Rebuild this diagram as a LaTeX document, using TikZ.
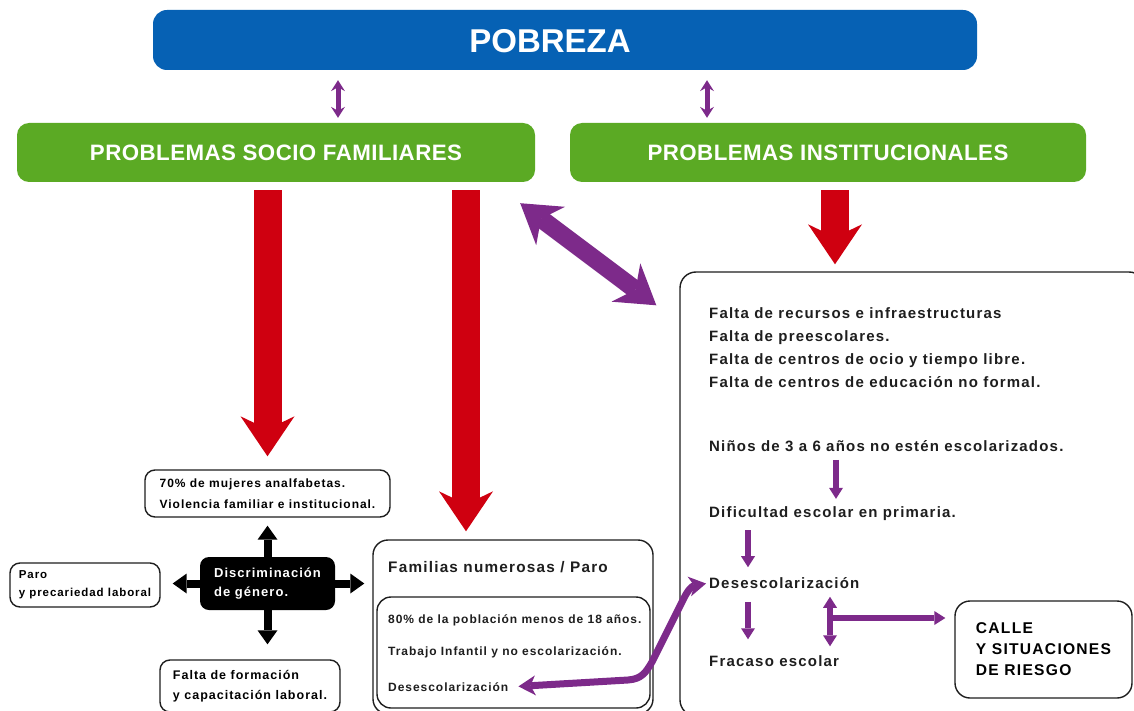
\documentclass[tikz,border=0pt]{standalone}
\usepackage{fontspec}
\setmainfont{Liberation Sans}
\newfontfamily\cuerpo{Liberation Sans}[LetterSpace=8]
\newfontfamily\cabecera{Liberation Sans}[LetterSpace=2]
\usetikzlibrary{arrows.meta}
\definecolor{pobblue}{HTML}{0661B4}
\definecolor{probgreen}{HTML}{5BAA24}
\definecolor{flechared}{HTML}{CF0010}
\definecolor{flechapurple}{HTML}{7D2A8A}
\definecolor{textdark}{HTML}{1E1E1E}

\begin{document}
\begin{tikzpicture}[x=1pt,y=-1pt,
  pobbox/.style={fill=pobblue,rounded corners=14pt,inner sep=0pt},
  probbox/.style={fill=probgreen,rounded corners=12pt,text=white,font=\cabecera\bfseries\fontsize{22.3}{26}\selectfont},
  wbox/.style={draw=textdark,line width=1.4pt,rounded corners=10pt,fill=white,inner sep=0pt,align=left},
  blkbox/.style={fill=black,rounded corners=9pt,text=white,inner sep=0pt,align=left},
  txt/.style={inner sep=0pt,text=textdark,align=left,anchor=west},
  redarr/.style={draw=flechared,line width=28pt,-{Stealth[length=40pt,width=54pt,inset=13pt,line width=0pt]}},
  pthin/.style={draw=flechapurple,line width=5pt,{Stealth[length=11pt,width=14pt,inset=4pt,line width=0pt]}-{Stealth[length=11pt,width=14pt,inset=4pt,line width=0pt]}},
  pdiag/.style={draw=flechapurple,line width=18pt,{Stealth[length=38pt,width=48pt,inset=12pt,line width=0pt]}-{Stealth[length=38pt,width=48pt,inset=12pt,line width=0pt]}},
  blkarr/.style={draw=black,line width=8pt,-{Triangle[length=14pt,width=20pt,line width=0pt]}},
  parr/.style={draw=flechapurple,line width=6pt,-{Triangle[length=11pt,width=14pt,line width=0pt]}},
  pdbl/.style={draw=flechapurple,line width=6pt,{Triangle[length=11pt,width=14pt,line width=0pt]}-{Triangle[length=11pt,width=14pt,line width=0pt]}},
  pcurve/.style={draw=flechapurple,line width=7pt,line join=round,{Stealth[length=17pt,width=20pt,inset=5pt,line width=0pt]}-{Stealth[length=17pt,width=20pt,inset=5pt,line width=0pt]}}]
\useasboundingbox[fill=white] (0,0) rectangle (1134,711);

\node[pobbox,minimum width=824,minimum height=60] (pobreza) at (565,40) {};
\node[text=white,font=\bfseries\fontsize{33}{38}\selectfont] (pobt) at (550,41) {POBREZA};
\node[probbox,minimum width=518,minimum height=59] (socio) at (276,152.5) {PROBLEMAS SOCIO FAMILIARES};
\node[probbox,minimum width=516,minimum height=59] (instp) at (828,152.5) {PROBLEMAS INSTITUCIONALES};

\coordinate (pcolA) at (338,0);
\coordinate (pcolB) at (707,0);
\coordinate (midcol) at (466,0);
\coordinate (rightcol) at (835,0);

\draw[pthin,shorten <=10pt,shorten >=5pt] (pobreza.south -| pcolA) -- (socio.north -| pcolA);
\draw[pthin,shorten <=10pt,shorten >=5pt] (pobreza.south -| pcolB) -- (instp.north -| pcolB);

\node[wbox,minimum width=245,minimum height=47,font=\cuerpo\bfseries\fontsize{12}{21}\selectfont] (mujeres) at (267.5,493.5)
  {70\% de mujeres analfabetas.\\Violencia familiar e institucional.};
\node[blkbox,minimum width=135,minimum height=53,font=\cuerpo\bfseries\fontsize{13}{19}\selectfont] (disc) at (267.5,583.5)
  {Discriminación\\de género.};
\node[wbox,minimum width=150,minimum height=44,font=\cuerpo\bfseries\fontsize{11.5}{18}\selectfont] (paro) at (85,585)
  {Paro\\y precariedad laboral};
\node[wbox,minimum width=180,minimum height=52,font=\cuerpo\bfseries\fontsize{12.5}{20}\selectfont] (formacion) at (250,686)
  {Falta de formación\\y capacitación laboral.};

\node[wbox,minimum width=280,minimum height=174,rounded corners=15pt] (fam) at (513,627) {};
\node[txt,font=\cuerpo\bfseries\fontsize{15.3}{18}\selectfont] (famt) at (388,567) {Familias numerosas / Paro};
\node[wbox,minimum width=273,minimum height=111,rounded corners=14pt] (famin) at (513.5,652.5) {};
\node[txt,font=\cuerpo\bfseries\fontsize{12}{14}\selectfont] (pobl) at (388,620) {80\% de la población menos de 18 años.};
\node[txt,font=\cuerpo\bfseries\fontsize{12}{14}\selectfont] (trab) at (388,652) {Trabajo Infantil y no escolarización.};
\node[txt,font=\cuerpo\bfseries\fontsize{12}{14}\selectfont] (desm) at (388,687) {Desescolarización};

\node[wbox,minimum width=465,minimum height=444,rounded corners=16pt] (inst) at (912.5,494) {};
\node[txt,font=\cuerpo\bfseries\fontsize{15}{23}\selectfont] (faltas) at (709,347.5)
  {Falta de recursos e infraestructuras\\Falta de preescolares.\\Falta de centros de ocio y tiempo libre.\\Falta de centros de educación no formal.};
\node[txt,font=\cuerpo\bfseries\fontsize{15}{18}\selectfont] (ninos) at (709,446) {Niños de 3 a 6 años no estén escolarizados.};
\node[txt,font=\cuerpo\bfseries\fontsize{15}{18}\selectfont] (dific) at (709,514) {Dificultad escolar en primaria.};
\node[txt,font=\cuerpo\bfseries\fontsize{15}{18}\selectfont] (desr) at (709,583) {Desescolarización};
\node[txt,font=\cuerpo\bfseries\fontsize{15}{18}\selectfont] (fracaso) at (709,661) {Fracaso escolar};

\node[wbox,minimum width=177,minimum height=97,rounded corners=15pt,font=\cuerpo\bfseries\fontsize{15.6}{21}\selectfont] (calle) at (1043.5,649.5)
  {CALLE\\Y SITUACIONES\\DE RIESGO};

\draw[redarr,shorten <=8pt,shorten >=13pt] (socio.south -| mujeres.north) -- (mujeres.north);
\draw[redarr,shorten <=8pt,shorten >=8pt] (socio.south -| midcol) -- (fam.north -| midcol);
\draw[redarr,shorten <=8pt,shorten >=7pt] (instp.south -| rightcol) -- (inst.north -| rightcol);

\draw[pdiag] ([shift={(-15,21)}]socio.south east) -- ([shift={(-23,34)}]inst.north west);

\draw[blkarr,shorten >=8pt] (disc.north) -- (mujeres.south);
\draw[blkarr,shorten >=15pt] (disc.south) -- (disc.south |- formacion.north);
\draw[blkarr,shorten >=12pt] (disc.west) -- (disc.west -| paro.east);
\draw[blkarr,shorten >=8pt] (disc.east) -- (disc.east -| fam.west);

\coordinate (colA) at (836,0);
\coordinate (colB) at (748,0);
\coordinate (colT) at (830,0);
\coordinate (tj) at (830,618);
\draw[parr,shorten <=8pt,shorten >=8pt] (ninos.south -| colA) -- (dific.north -| colA);
\draw[parr,shorten <=9pt,shorten >=10pt] (dific.south -| colB) -- (desr.north -| colB);
\draw[parr,shorten <=13pt,shorten >=16pt] (desr.south -| colB) -- (fracaso.north -| colB);
\draw[pdbl,shorten <=8pt,shorten >=9pt] (desr.south -| colT) -- (fracaso.north -| colT);
\draw[parr,shorten >=9pt] (tj) -- (tj -| calle.west);

\draw[pcurve,shorten <=10pt,shorten >=3pt] (desm.east) -- (628,680)
  .. controls (642,679) and (646,672) .. (652,662) -- (684,598)
  .. controls (688,590) and (692,586) .. (desr.west);
\end{tikzpicture}
\end{document}
